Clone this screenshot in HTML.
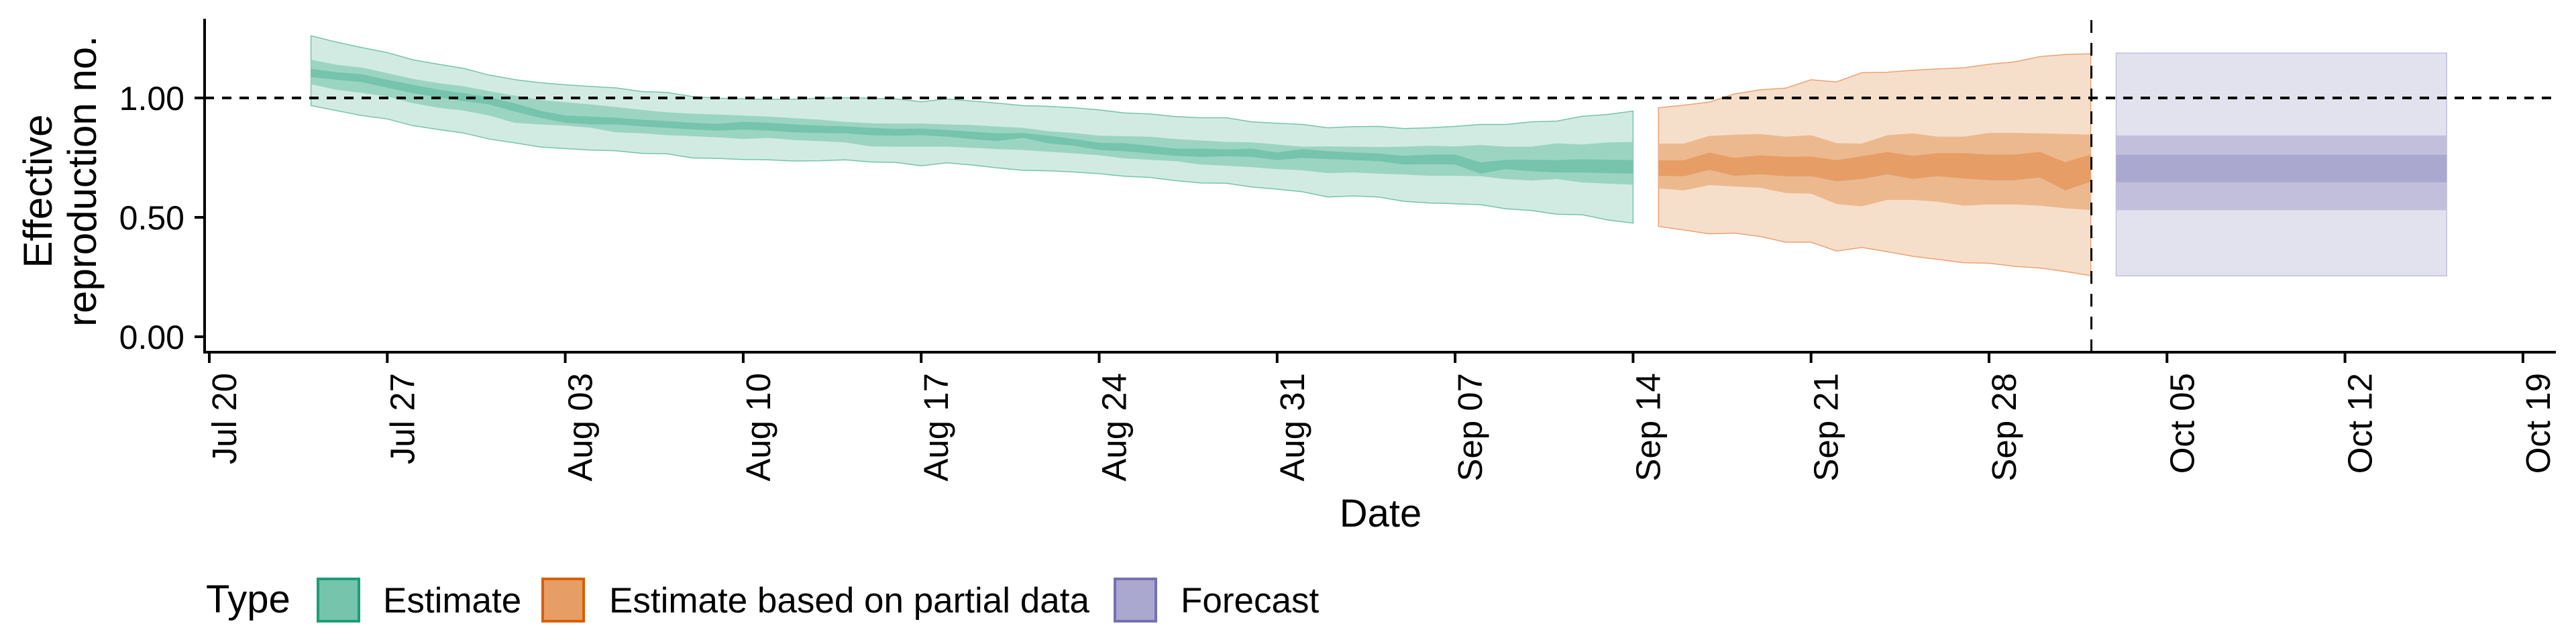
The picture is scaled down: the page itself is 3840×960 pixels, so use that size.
<!DOCTYPE html>
<html><head><meta charset="utf-8">
<style>
html,body{margin:0;padding:0;background:#fff;}
svg{display:block;font-family:"Liberation Sans",sans-serif;}
</style></head>
<body>
<svg id="chart" width="3840" height="960" viewBox="0 0 3840 960" xmlns="http://www.w3.org/2000/svg">
<g id="bands"></g>
<g id="axes"></g>
<g id="legend"></g>
</svg>
<script>
// ---- data ----
const xTickLabels = ["Jul 20","Jul 27","Aug 03","Aug 10","Aug 17","Aug 24","Aug 31","Sep 07","Sep 14","Sep 21","Sep 28","Oct 05","Oct 12","Oct 19"];
const xTickDays = [0,7,14,21,28,35,42,49,56,63,70,77,84,91];
const yTickValues = [0,0.5,1.0];
const yTickLabels = ["0.00","0.50","1.00"];

const estStartDay = 4;
const estUpper90 = [1.260,1.234,1.211,1.190,1.160,1.141,1.124,1.096,1.077,1.064,1.055,1.048,1.042,1.027,1.023,1.006,0.999,0.996,0.994,0.995,0.999,1.001,0.999,0.996,0.984,0.996,0.987,0.978,0.968,0.965,0.959,0.950,0.937,0.933,0.922,0.917,0.917,0.900,0.894,0.889,0.875,0.880,0.881,0.872,0.875,0.881,0.889,0.889,0.900,0.903,0.923,0.931,0.945];
const estLower90 = [0.968,0.947,0.926,0.912,0.884,0.868,0.853,0.828,0.812,0.795,0.788,0.782,0.779,0.768,0.766,0.749,0.747,0.742,0.741,0.736,0.737,0.741,0.732,0.730,0.716,0.728,0.719,0.707,0.697,0.695,0.690,0.683,0.672,0.667,0.654,0.644,0.643,0.627,0.618,0.607,0.585,0.590,0.585,0.567,0.560,0.557,0.553,0.536,0.529,0.513,0.511,0.489,0.476];
const estUpper50 = [1.160,1.139,1.127,1.104,1.080,1.062,1.049,1.029,1.010,0.992,0.982,0.973,0.962,0.950,0.940,0.934,0.931,0.926,0.922,0.915,0.909,0.900,0.894,0.893,0.893,0.889,0.887,0.880,0.875,0.861,0.853,0.842,0.840,0.838,0.828,0.822,0.816,0.814,0.805,0.796,0.797,0.796,0.794,0.796,0.800,0.797,0.803,0.796,0.796,0.810,0.805,0.814,0.816];
const estLower50 = [1.057,1.034,1.021,1.006,0.978,0.959,0.947,0.926,0.896,0.889,0.884,0.875,0.856,0.852,0.844,0.840,0.835,0.828,0.833,0.824,0.819,0.814,0.797,0.796,0.796,0.796,0.791,0.786,0.782,0.775,0.768,0.760,0.747,0.741,0.735,0.721,0.716,0.710,0.702,0.697,0.685,0.688,0.683,0.679,0.674,0.674,0.672,0.660,0.654,0.660,0.646,0.641,0.637];
const estUpper20 = [1.122,1.108,1.099,1.076,1.055,1.035,1.020,1.003,0.978,0.947,0.926,0.922,0.917,0.909,0.903,0.896,0.891,0.900,0.896,0.889,0.884,0.881,0.875,0.870,0.872,0.866,0.859,0.852,0.853,0.842,0.828,0.812,0.810,0.800,0.788,0.788,0.784,0.788,0.772,0.786,0.777,0.772,0.767,0.758,0.763,0.763,0.730,0.741,0.741,0.740,0.743,0.741,0.740];
const estLower20 = [1.087,1.076,1.066,1.043,1.020,1.003,0.987,0.973,0.943,0.917,0.896,0.889,0.889,0.881,0.875,0.868,0.863,0.868,0.863,0.856,0.853,0.852,0.844,0.842,0.844,0.838,0.828,0.819,0.833,0.810,0.800,0.782,0.777,0.767,0.758,0.753,0.756,0.753,0.740,0.749,0.744,0.740,0.735,0.721,0.723,0.721,0.683,0.702,0.693,0.688,0.688,0.685,0.683];

const partStartDay = 57;
const partUpper90 = [0.959,0.970,0.983,1.017,1.034,1.041,1.076,1.067,1.106,1.108,1.116,1.122,1.126,1.141,1.151,1.173,1.182,1.185];
const partLower90 = [0.462,0.447,0.431,0.434,0.420,0.396,0.396,0.359,0.374,0.356,0.337,0.324,0.310,0.308,0.295,0.288,0.273,0.256];
const partUpper50 = [0.809,0.809,0.841,0.846,0.849,0.838,0.844,0.811,0.809,0.844,0.852,0.838,0.838,0.854,0.854,0.852,0.849,0.846];
const partLower50 = [0.621,0.613,0.635,0.629,0.624,0.602,0.599,0.556,0.546,0.573,0.573,0.565,0.549,0.554,0.554,0.549,0.538,0.531];
const partUpper20 = [0.739,0.739,0.771,0.749,0.760,0.753,0.755,0.739,0.756,0.774,0.758,0.769,0.769,0.763,0.763,0.774,0.731,0.763];
const partLower20 = [0.674,0.672,0.699,0.674,0.680,0.672,0.672,0.651,0.661,0.680,0.661,0.672,0.663,0.655,0.655,0.667,0.613,0.649];

const fcDays = [75,88];
const fcUpper90 = [1.188,1.188];
const fcLower90 = [0.255,0.255];
const fcUpper50 = [0.843,0.843];
const fcLower50 = [0.530,0.530];
const fcUpper20 = [0.762,0.762];
const fcLower20 = [0.647,0.647];

const refLineValue = 1.0;
const dateDay = 74;

// ---- scales ----
const X0 = 312, DAY = 37.9;
function xs(d){ return X0 + DAY*d; }
const Y0 = 502, YU = 356;
function ys(v){ return Y0 - YU*v; }

const NS = "http://www.w3.org/2000/svg";
function mk(tag, attrs, parent){
  const e = document.createElementNS(NS, tag);
  for (const k in attrs) e.setAttribute(k, attrs[k]);
  parent.appendChild(e);
  return e;
}
const bands = document.getElementById('bands');
const axes = document.getElementById('axes');
const legend = document.getElementById('legend');

function bandPath(start, up, lo){
  let d = "";
  for (let i=0;i<up.length;i++) d += (i?"L":"M") + xs(start+i).toFixed(1) + "," + ys(up[i]).toFixed(1);
  for (let i=lo.length-1;i>=0;i--) d += "L" + xs(start+i).toFixed(1) + "," + ys(lo[i]).toFixed(1);
  return d + "Z";
}
function drawSeries(name, start, sets, colors, stroke){
  sets.forEach((s, i) => {
    const p = mk('path', {d: bandPath(start, s[0], s[1]), fill: colors[i], stroke: i===0?stroke:'none', 'stroke-width': i===0?1.5:0}, bands);
    
    
  });
}
drawSeries('estimate', estStartDay, [[estUpper90,estLower90],[estUpper50,estLower50],[estUpper20,estLower20]], ['#d2ebe2','#9cd4c2','#75c4ab'], '#75c4ab');
drawSeries('partial', partStartDay, [[partUpper90,partLower90],[partUpper50,partLower50],[partUpper20,partLower20]], ['#f6dfca','#ecb98f','#e69e66'], '#eca274');
function fcPath(up, lo){
  return "M"+xs(fcDays[0])+","+ys(up[0])+"L"+xs(fcDays[1])+","+ys(up[1])+"L"+xs(fcDays[1])+","+ys(lo[1])+"L"+xs(fcDays[0])+","+ys(lo[0])+"Z";
}
[[fcUpper90,fcLower90,'#e2e2ef'],[fcUpper50,fcLower50,'#c2bfdc'],[fcUpper20,fcLower20,'#aaa8cf']].forEach((s,i)=>{
  const p = mk('path', {d: fcPath(s[0], s[1]), fill: s[2], stroke: i===0?'#c2bfdc':'none', 'stroke-width': 1.5}, bands);
  
  
});

const hl = mk('line', {x1:305, x2:3810, y1:ys(refLineValue), y2:ys(refLineValue), stroke:'#000', 'stroke-width':4, 'stroke-dasharray':'14,12'}, axes);


const vl = mk('line', {x1:xs(dateDay)+1, x2:xs(dateDay)+1, y1:30, y2:525, stroke:'#000', 'stroke-width':3, 'stroke-dasharray':'19,15'}, axes);



const ya = mk('line', {x1:305, x2:305, y1:28, y2:527, stroke:'#000', 'stroke-width':4}, axes);


const xa = mk('line', {x1:303, x2:3810, y1:525, y2:525, stroke:'#000', 'stroke-width':4}, axes);



yTickValues.forEach((v,i)=>{
  const t = mk('line', {x1:290, x2:305, y1:ys(v), y2:ys(v), stroke:'#000', 'stroke-width':4}, axes);
  
  
  const l = mk('text', {x:275, y:ys(v)+18, 'text-anchor':'end', 'font-size':50, fill:'#000'}, axes);
  l.textContent = yTickLabels[i];
  
  
});
xTickDays.forEach((d,i)=>{
  const x = xs(d);
  const t = mk('line', {x1:x, x2:x, y1:525, y2:541, stroke:'#000', 'stroke-width':4}, axes);
  
  
  const l = mk('text', {x:0, y:0, 'text-anchor':'end', 'font-size':51, fill:'#000', transform:'translate('+(x+40)+',556) rotate(-90)'}, axes);
  l.textContent = xTickLabels[i];
  
  
});
</script>
<script>
(function(){
  const NS = "http://www.w3.org/2000/svg";
  const axes = document.getElementById('axes');
  const legend = document.getElementById('legend');
  function txt(s, attrs, parent){
    const e = document.createElementNS(NS,'text');
    for (const k in attrs) e.setAttribute(k, attrs[k]);
    e.textContent = s; parent.appendChild(e); return e;
  }
  const xt = txt('Date', {x:2058, y:785, 'text-anchor':'middle', 'font-size':58, fill:'#000'}, axes);
  
  
  const y1 = txt('Effective', {x:0, y:0, 'text-anchor':'middle', 'font-size':60, fill:'#000', transform:'translate(77,285) rotate(-90)'}, axes);
  
  
  const y2 = txt('reproduction no.', {x:0, y:0, 'text-anchor':'middle', 'font-size':60, fill:'#000', transform:'translate(143,270) rotate(-90)'}, axes);
  
  

  const lt = txt('Type', {x:307, y:913, 'font-size':58, fill:'#000'}, legend);
  
  
  const entries = [
    {x:472, tx:571, fill:'#75c4ab', stroke:'#1b9e77', label:'Estimate', name:'legend-entry-estimate'},
    {x:807, tx:908, fill:'#e69e66', stroke:'#d95f02', label:'Estimate based on partial data', name:'legend-entry-partial'},
    {x:1660, tx:1760, fill:'#aaa8cf', stroke:'#7570b3', label:'Forecast', name:'legend-entry-forecast'}
  ];
  entries.forEach(en=>{
    const g = document.createElementNS(NS,'g');
    
    
    legend.appendChild(g);
    const r = document.createElementNS(NS,'rect');
    r.setAttribute('x', en.x+2); r.setAttribute('y', 863); r.setAttribute('width', 61); r.setAttribute('height', 63);
    r.setAttribute('fill', en.fill); r.setAttribute('stroke', en.stroke); r.setAttribute('stroke-width', 4);
    
    
    g.appendChild(r);
    const t = txt(en.label, {x:en.tx, y:913, 'font-size':53, fill:'#000'}, g);
    
    
  });
})();
</script>
</body></html>
